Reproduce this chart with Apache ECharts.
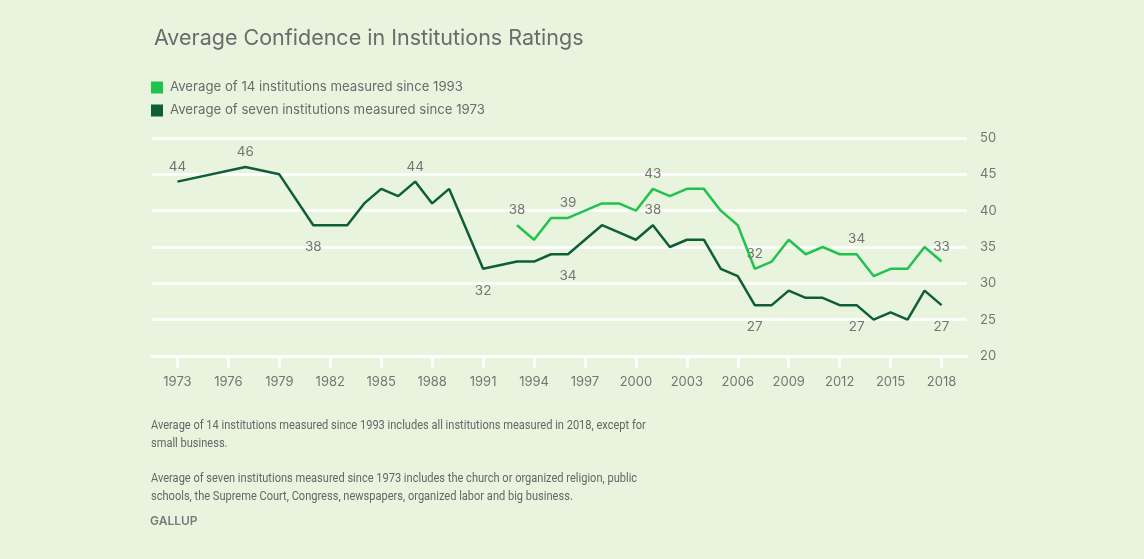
<!DOCTYPE html>
<html>
<head>
<meta charset="utf-8">
<script src="https://cdn.jsdelivr.net/npm/echarts@6/dist/echarts.min.js"></script>
<style>
html,body{margin:0;padding:0;background:#e9f4de;}
#c{width:1144px;height:559px;}
</style>
</head>
<body>
<div id="c"></div>
<script>
const years = [];
for (let y = 1972; y <= 2019; y++) years.push(String(y));

// Average of seven institutions measured since 1973
const sevenYears = [1973,1977,1979,1981,1982,1983,1984,1985,1986,1987,1988,1989,1990,1991,1993,1994,1995,1996,1997,1998,1999,2000,2001,2002,2003,2004,2005,2006,2007,2008,2009,2010,2011,2012,2013,2014,2015,2016,2017,2018];
const sevenVals  = [44,46,45,38,38,38,41,43,42,44,41,43,37.5,32,33,33,34,34,36,38,37,36,38,35,36,36,32,31,27,27,29,28,28,27,27,25,26,25,29,27];

// Average of 14 institutions measured since 1993
const fourteenYears = [1993,1994,1995,1996,1997,1998,1999,2000,2001,2002,2003,2004,2005,2006,2007,2008,2009,2010,2011,2012,2013,2014,2015,2016,2017,2018];
const fourteenVals  = [38,36,39,39,40,41,41,40,43,42,43,43,40,38,32,33,36,34,35,34,34,31,32,32,35,33];

// labelled points: year -> position
const sevenLabels = {1973:'top',1977:'top',1981:'bottom',1987:'top',1991:'bottom',1996:'bottom',2001:'top',2007:'bottom',2013:'bottom',2018:'bottom'};
const fourteenLabels = {1993:'top',1996:'top',2001:'top',2007:'top',2013:'top',2018:'top'};

const yTicks = [20,25,30,35,40,45,50];

function buildSeries(ys, vs, labels) {
  return years.map(y => {
    const i = ys.indexOf(Number(y));
    if (i < 0) return null;
    const pos = labels[Number(y)];
    if (!pos) return vs[i];
    return {
      value: vs[i],
      label: {
        show: true,
        position: pos,
        distance: pos === 'top' ? 8 : 15,
        formatter: String(Math.round(vs[i]))
      }
    };
  });
}

const font = 'Inter, "Noto Sans", sans-serif';
const noteFont = 'Roboto, "Noto Sans", sans-serif';
const gray = '#757575';
const LIGHT = '#22c24e';
const DARK = '#0e5e37';

const chart = echarts.init(document.getElementById('c'));
chart.setOption({
  backgroundColor: '#e9f4de',
  animation: false,
  title: {
    text: 'Average Confidence in Institutions Ratings',
    left: 149, top: 23,
    textStyle: {fontFamily: font, fontSize: 21.5, fontWeight: 'normal', color: '#6b6b6b'}
  },
  legend: {
    orient: 'vertical',
    left: 146, top: 76,
    itemWidth: 12, itemHeight: 12, itemGap: 10,
    icon: 'rect',
    selectedMode: false,
    textStyle: {fontFamily: font, fontSize: 13.2, color: '#6b6b6b', padding: [0,0,0,2]},
    data: ['Average of 14 institutions measured since 1993', 'Average of seven institutions measured since 1973']
  },
  grid: {left: 152, right: 177, top: 138, bottom: 203, containLabel: false},
  xAxis: {
    type: 'category',
    data: years,
    boundaryGap: true,
    axisLine: {show: true, lineStyle: {color: '#ffffff', width: 2.5}},
    axisTick: {
      show: true, alignWithLabel: true, length: 12,
      interval: (idx, v) => (Number(v) - 1973) % 3 === 0 && Number(v) >= 1973 && Number(v) <= 2018,
      lineStyle: {color: '#ffffff', width: 2.5}
    },
    axisLabel: {
      margin: 20,
      interval: (idx, v) => (Number(v) - 1973) % 3 === 0 && Number(v) >= 1973 && Number(v) <= 2018,
      fontFamily: font, fontSize: 13, color: gray
    },
    splitLine: {show: false}
  },
  yAxis: {
    type: 'value',
    position: 'right',
    min: yTicks[0], max: yTicks[yTicks.length - 1], interval: 5,
    axisLine: {show: false},
    axisTick: {show: false},
    axisLabel: {margin: 13, fontFamily: font, fontSize: 13, color: gray},
    splitLine: {show: true, lineStyle: {color: '#ffffff', width: 2.5}}
  },
  series: [
    {
      name: 'Average of 14 institutions measured since 1993',
      type: 'line',
      data: buildSeries(fourteenYears, fourteenVals, fourteenLabels),
      connectNulls: true,
      showSymbol: true, symbol: 'circle', symbolSize: 0,
      itemStyle: {color: LIGHT},
      lineStyle: {color: LIGHT, width: 2.5},
      label: {fontFamily: font, fontSize: 13.5, color: gray},
      labelLayout: {hideOverlap: false},
      z: 3
    },
    {
      name: 'Average of seven institutions measured since 1973',
      type: 'line',
      data: buildSeries(sevenYears, sevenVals, sevenLabels),
      connectNulls: true,
      showSymbol: true, symbol: 'circle', symbolSize: 0,
      itemStyle: {color: DARK},
      lineStyle: {color: DARK, width: 2.5},
      label: {fontFamily: font, fontSize: 13.5, color: gray},
      labelLayout: {hideOverlap: false},
      z: 2
    }
  ],
  graphic: [
    {type: 'text', x: 151, y: 417, scaleX: 0.864, style: {text: 'Average of 14 institutions measured since 1993 includes all institutions measured in 2018, except for\nsmall business.', fontFamily: noteFont, fontSize: 12.8, lineHeight: 18, fill: '#666666'}},
    {type: 'text', x: 151, y: 470, scaleX: 0.864, style: {text: 'Average of seven institutions measured since 1973 includes the church or organized religion, public\nschools, the Supreme Court, Congress, newspapers, organized labor and big business.', fontFamily: noteFont, fontSize: 12.8, lineHeight: 18, fill: '#666666'}},
    {type: 'text', x: 150, y: 515, style: {text: 'GALLUP', fontFamily: font, fontSize: 12, fontWeight: 600, fill: '#7a7a7a'}}
  ]
});
</script>
</body>
</html>
